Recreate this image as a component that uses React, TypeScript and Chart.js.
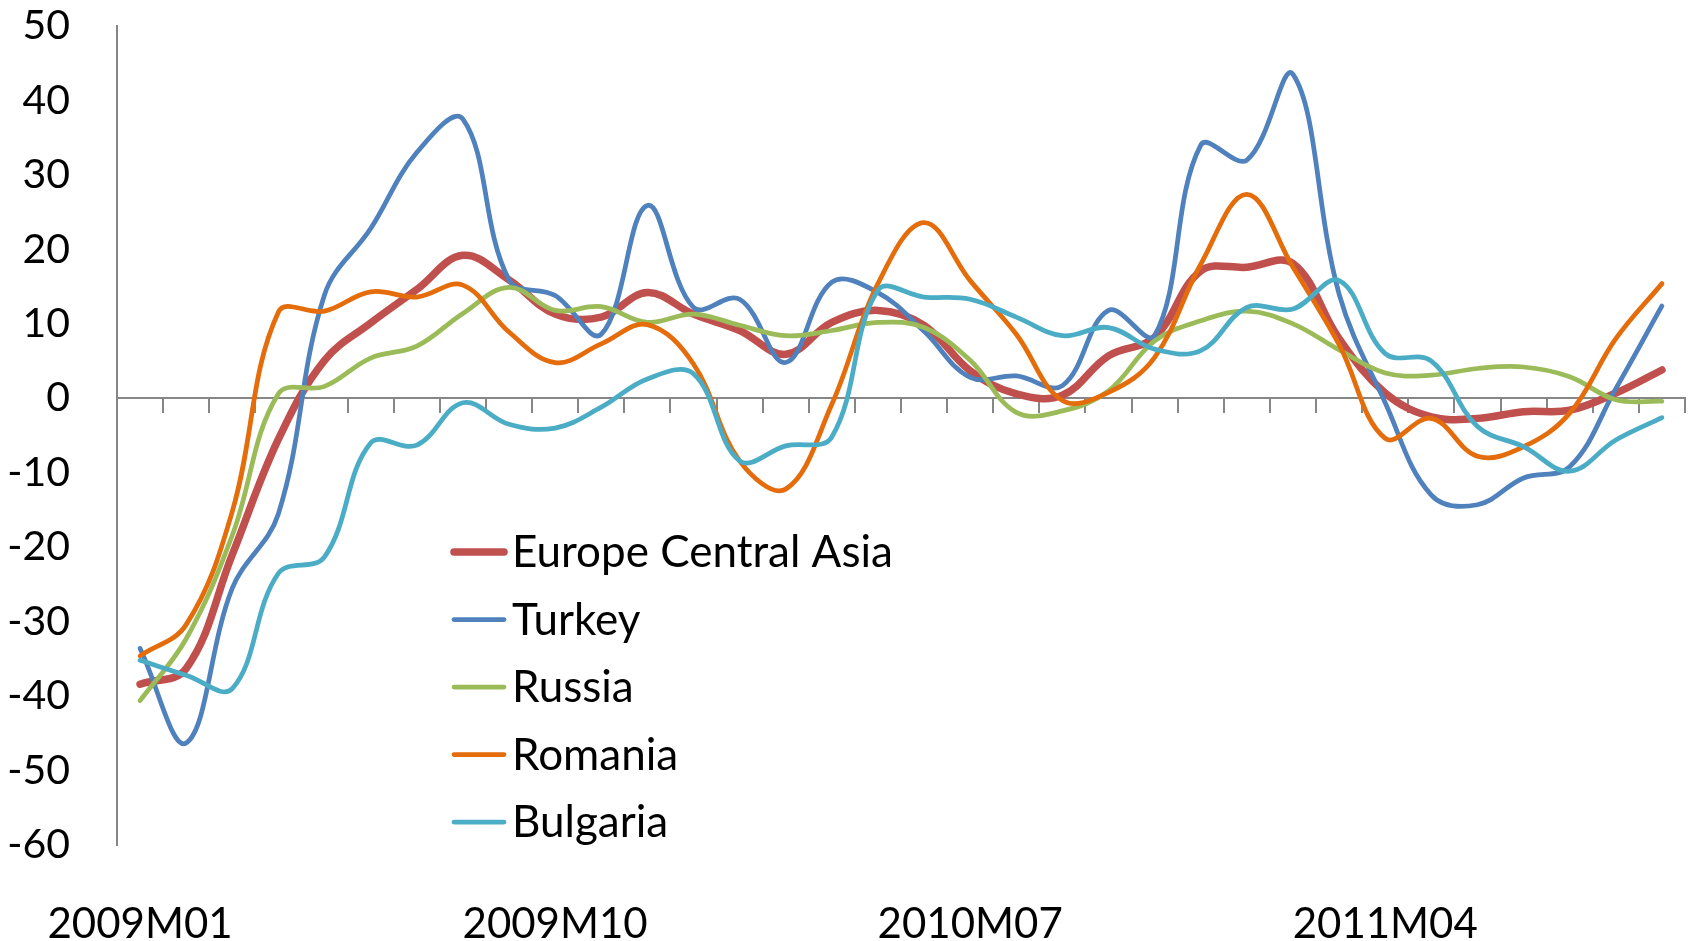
import React, { useEffect, useRef } from "react";
import { Chart, registerables } from "chart.js";

Chart.register(...registerables);

const FONT = "Lato, 'Open Sans', sans-serif";

const months: string[] = [
  "2009M01", "2009M02", "2009M03", "2009M04", "2009M05", "2009M06",
  "2009M07", "2009M08", "2009M09", "2009M10", "2009M11", "2009M12",
  "2010M01", "2010M02", "2010M03", "2010M04", "2010M05", "2010M06",
  "2010M07", "2010M08", "2010M09", "2010M10", "2010M11", "2010M12",
  "2011M01", "2011M02", "2011M03", "2011M04", "2011M05", "2011M06",
  "2011M07", "2011M08", "2011M09", "2011M10",
];

const shownLabels: string[] = ["2009M01", "2009M10", "2010M07", "2011M04"];

const europeCentralAsia: number[] = [
  -38.4, -36.3, -21, -5.5, 5.1, 10.1, 14.6, 19.2, 15.9,
  11.3, 10.9, 14.2, 11.3, 9.1, 5.9, 10.2, 11.8, 9.8,
  3.7, 0.6, 0.4, 5.7, 8.2, 17.1, 17.6, 18.1,
  8, 0.7, -2.5, -2.7, -1.8, -1.6, 0.7, 3.8,
];

const turkey: number[] = [
  -33.6, -46.3, -25.5, -15.5, 13.9, 22.8, 33, 37.5, 15.9,
  13.8, 8.6, 25.9, 12.2, 13.3, 4.8, 15.6, 14.2, 9,
  2.8, 3.0, 1.7, 11.8, 8.4, 34, 32, 43.5,
  14, -0.6, -13, -14.3, -10.7, -9.2, 1.3, 12.4,
];

const russia: number[] = [
  -40.6, -32.3, -18.4, 0.6, 1.6, 5.4, 7.0, 11.4, 14.9,
  11.8, 12.3, 10.2, 11.3, 9.8, 8.4, 9.1, 10.2, 9.5,
  5.1, -1.9, -1.7, 1.0, 7.7, 10.4, 11.7, 10.0,
  6.5, 3.4, 3.1, 4.0, 4.2, 2.9, -0.2, -0.4,
];

const romania: number[] = [
  -34.6, -30.4, -15.2, 11.6, 11.7, 14.3, 13.6, 15.2, 8.9,
  4.8, 7.3, 9.9, 4.6, -8.4, -12.2, -0.8, 15.4, 23.6,
  15.8, 8.6, -0.3, 0.8, 5.5, 18.0, 27.4, 17.6,
  7.2, -5.4, -2.7, -7.8, -6.5, -2.0, 8, 15.4,
];

const bulgaria: number[] = [
  -35.2, -37.2, -39, -23.5, -21.3, -6.0, -6.3, -0.6, -3.5,
  -4.0, -1.2, 2.6, 3.3, -8.4, -6.4, -5.2, 14.5, 13.6,
  13.3, 10.9, 8.4, 9.5, 6.6, 6.4, 12.2, 12.0,
  15.8, 6.0, 5.0, -3.8, -6.5, -9.8, -5.6, -2.6,
];

const seriesNames: string[] = ["Europe Central Asia", "Turkey", "Russia", "Romania", "Bulgaria"];
const seriesColors: string[] = ["#C0504D", "#4F81BD", "#9BBB59", "#E46C0A", "#4BACC6"];
const seriesWidths: number[] = [7.5, 4.75, 4.75, 4.75, 4.75];

const insideLegend = {
  id: "insideLegend",
  afterDraw(chart: any) {
    const { ctx, chartArea } = chart;
    const x0 = chartArea.left + 337;
    const y0 = chartArea.top + 526;
    const dy = 67.5;
    ctx.save();
    chart.data.datasets.forEach((ds: any, i: number) => {
      const y = y0 + i * dy;
      ctx.strokeStyle = ds.borderColor;
      ctx.lineWidth = ds.borderWidth;
      ctx.lineCap = "round";
      ctx.beginPath();
      ctx.moveTo(x0, y);
      ctx.lineTo(x0 + 50, y);
      ctx.stroke();
      ctx.fillStyle = "#000";
      ctx.font = `44px ${FONT}`;
      ctx.textBaseline = "middle";
      ctx.textAlign = "left";
      ctx.fillText(ds.label, x0 + 58, y + 1);
    });
    ctx.restore();
  },
};

export default function App() {
  const ref = useRef<HTMLCanvasElement>(null);

  useEffect(() => {
    const values = [europeCentralAsia, turkey, russia, romania, bulgaria];
    const chart = new Chart(ref.current as HTMLCanvasElement, {
      type: "line",
      data: {
        labels: months,
        datasets: values.map((v, i) => ({
          label: seriesNames[i],
          data: v,
          borderColor: seriesColors[i],
          backgroundColor: seriesColors[i],
          borderWidth: seriesWidths[i],
          pointRadius: 0,
          pointHoverRadius: 0,
          tension: 0.38,
          fill: false,
          order: 5 - i,
          borderCapStyle: "round" as const,
          borderJoinStyle: "round" as const,
        })),
      },
      options: {
        responsive: false,
        animation: false,
        devicePixelRatio: 1,
        layout: { padding: { top: 26, right: 11, left: 0, bottom: 0 } },
        plugins: {
          legend: { display: false },
          tooltip: { enabled: false },
        },
        scales: {
          x: {
            type: "category",
            offset: true,
            position: { y: 0 } as any,
            ticks: { display: false },
            grid: {
              display: true,
              drawOnChartArea: false,
              drawTicks: true,
              tickLength: 14,
              offset: true,
              color: "#868686",
              lineWidth: 2,
            },
            border: { display: true, color: "#868686", width: 2 },
            afterFit: (s: any) => {
              s.paddingLeft = 0;
              s.paddingRight = 0;
              s.paddingTop = 0;
              s.paddingBottom = 0;
            },
          },
          x2: {
            type: "category",
            position: "bottom",
            offset: true,
            grid: { display: false, drawTicks: false },
            border: { display: false },
            ticks: {
              autoSkip: false,
              maxRotation: 0,
              minRotation: 0,
              color: "#000",
              padding: 54,
              font: { family: FONT, size: 42 },
              callback: (_v: any, i: number) =>
                shownLabels.includes(months[i]) ? months[i] : "",
            },
            afterFit: (s: any) => {
              s.height = 96;
              s.paddingLeft = 0;
              s.paddingRight = 0;
              s.paddingTop = 0;
              s.paddingBottom = 0;
            },
          },
          y: {
            min: -60,
            max: 50,
            grid: { display: false, drawTicks: false },
            border: { display: true, color: "#868686", width: 2 },
            ticks: {
              stepSize: 10,
              color: "#000",
              padding: 47,
              font: { family: FONT, size: 41 },
            },
            afterFit: (s: any) => {
              s.width = 117;
              s.paddingTop = 0;
              s.paddingBottom = 0;
            },
          },
        },
      },
      plugins: [insideLegend],
    });
    return () => chart.destroy();
  }, []);

  return (
    <div style={{ position: "fixed", left: 0, top: 0, width: 1696, height: 941, background: "#fff" }}>
      <canvas ref={ref} width={1696} height={941} style={{ display: "block", width: 1696, height: 941 }} />
    </div>
  );
}
